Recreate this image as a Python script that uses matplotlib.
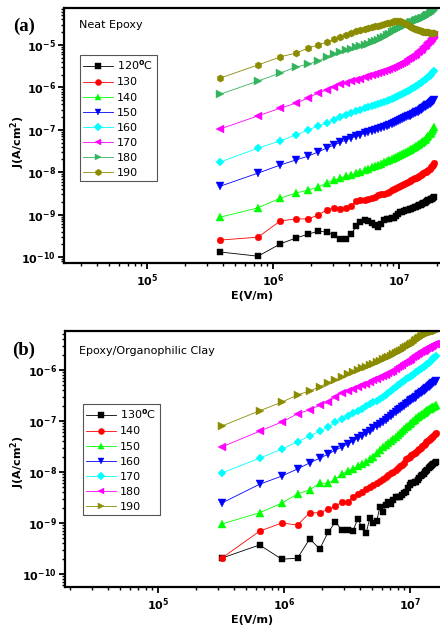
import numpy as np
import matplotlib
matplotlib.use('Agg')
import matplotlib.pyplot as plt
from matplotlib.ticker import LogLocator, FixedLocator, FuncFormatter, NullFormatter

plt.rcParams['font.family'] = ['DejaVu Sans']
plt.rcParams['mathtext.fontset'] = 'dejavusans'

# ---------------- data ----------------
# Applied field steps (uniform voltage steps)
E_a = np.arange(1, 51) * 3.8e5
E_b = np.arange(1, 51) * 3.2e5

temps_a = ['120', '130', '140', '150', '160', '170', '180', '190']
temps_b = ['130', '140', '150', '160', '170', '180', '190']

# tick decades shown
xdec_a = [5, 6, 7]
ydec_a = [-10, -9, -8, -7, -6, -5]
xdec_b = [5, 6, 7]
ydec_b = [-10, -9, -8, -7, -6]

# log10 J (A/cm^2) - Neat Epoxy
logJ_a_120 = [-9.88, -9.98, -9.69, -9.55, -9.46, -9.39, -9.41, -9.48, -9.58, -9.58,
              -9.46, -9.27, -9.17, -9.13, -9.15, -9.20, -9.25, -9.29, -9.22, -9.13,
              -9.10, -9.10, -9.08, -9.08, -9.03, -8.99, -8.94, -8.94, -8.92, -8.89,
              -8.89, -8.87, -8.87, -8.84, -8.82, -8.82, -8.80, -8.77, -8.77, -8.75,
              -8.73, -8.73, -8.70, -8.68, -8.66, -8.66, -8.63, -8.63, -8.61, -8.58]
logJ_a_130 = [-9.60, -9.53, -9.15, -9.10, -9.10, -9.01, -8.89, -8.84, -8.87, -8.84,
              -8.80, -8.68, -8.66, -8.66, -8.63, -8.61, -8.58, -8.54, -8.51, -8.51,
              -8.49, -8.47, -8.42, -8.40, -8.37, -8.35, -8.33, -8.30, -8.28, -8.25,
              -8.23, -8.21, -8.18, -8.16, -8.14, -8.14, -8.11, -8.09, -8.07, -8.04,
              -8.02, -8.00, -8.00, -7.97, -7.95, -7.92, -7.88, -7.85, -7.83, -7.78]
logJ_a_140 = [-9.06, -8.84, -8.61, -8.49, -8.42, -8.35, -8.25, -8.18, -8.14, -8.09,
              -8.07, -8.02, -8.00, -7.95, -7.92, -7.88, -7.85, -7.83, -7.81, -7.76,
              -7.74, -7.71, -7.69, -7.67, -7.64, -7.62, -7.59, -7.57, -7.55, -7.52,
              -7.50, -7.48, -7.45, -7.43, -7.41, -7.38, -7.36, -7.33, -7.31, -7.29,
              -7.26, -7.24, -7.22, -7.17, -7.15, -7.10, -7.08, -7.03, -6.98, -6.93]
logJ_a_150 = [-8.33, -8.02, -7.83, -7.71, -7.62, -7.52, -7.43, -7.36, -7.29, -7.24,
              -7.19, -7.15, -7.12, -7.08, -7.05, -7.03, -7.00, -6.98, -6.96, -6.93,
              -6.91, -6.89, -6.86, -6.84, -6.82, -6.79, -6.77, -6.75, -6.72, -6.70,
              -6.67, -6.67, -6.65, -6.63, -6.60, -6.58, -6.58, -6.56, -6.53, -6.51,
              -6.49, -6.46, -6.44, -6.42, -6.42, -6.39, -6.37, -6.34, -6.32, -6.30]
logJ_a_160 = [-7.76, -7.43, -7.26, -7.12, -7.00, -6.91, -6.84, -6.77, -6.70, -6.65,
              -6.60, -6.56, -6.53, -6.49, -6.46, -6.44, -6.42, -6.39, -6.37, -6.34,
              -6.32, -6.30, -6.27, -6.25, -6.23, -6.20, -6.18, -6.16, -6.13, -6.11,
              -6.08, -6.06, -6.04, -6.01, -5.99, -5.97, -5.94, -5.92, -5.90, -5.87,
              -5.85, -5.83, -5.80, -5.78, -5.75, -5.73, -5.71, -5.66, -5.64, -5.61]
logJ_a_170 = [-6.98, -6.67, -6.49, -6.37, -6.25, -6.13, -6.06, -5.99, -5.92, -5.90,
              -5.85, -5.83, -5.80, -5.75, -5.73, -5.71, -5.68, -5.66, -5.64, -5.61,
              -5.59, -5.57, -5.54, -5.52, -5.50, -5.47, -5.45, -5.42, -5.40, -5.38,
              -5.33, -5.31, -5.28, -5.26, -5.24, -5.21, -5.17, -5.14, -5.12, -5.09,
              -5.05, -5.02, -5.00, -4.95, -4.93, -4.91, -4.86, -4.83, -4.79, -4.76]
logJ_a_180 = [-6.16, -5.85, -5.66, -5.52, -5.45, -5.38, -5.28, -5.21, -5.17, -5.12,
              -5.09, -5.05, -5.02, -5.00, -4.98, -4.93, -4.91, -4.88, -4.83, -4.81,
              -4.76, -4.74, -4.69, -4.67, -4.65, -4.62, -4.60, -4.58, -4.55, -4.53,
              -4.50, -4.48, -4.46, -4.46, -4.43, -4.41, -4.41, -4.39, -4.39, -4.36,
              -4.36, -4.34, -4.32, -4.29, -4.29, -4.27, -4.25, -4.22, -4.20, -4.17]
logJ_a_190 = [-5.78, -5.47, -5.28, -5.19, -5.07, -5.00, -4.93, -4.86, -4.81, -4.76,
              -4.72, -4.67, -4.65, -4.62, -4.60, -4.58, -4.55, -4.55, -4.53, -4.50,
              -4.48, -4.48, -4.46, -4.43, -4.43, -4.43, -4.43, -4.46, -4.48, -4.50,
              -4.53, -4.55, -4.58, -4.60, -4.62, -4.62, -4.65, -4.65, -4.67, -4.67,
              -4.69, -4.69, -4.69, -4.69, -4.69, -4.72, -4.72, -4.72, -4.72, -4.72]

# log10 J (A/cm^2) - Epoxy/Organophilic Clay
logJ_b_130 = [-9.69, -9.43, -9.71, -9.69, -9.31, -9.51, -9.18, -8.98, -9.14, -9.14,
              -9.16, -8.92, -9.08, -9.20, -8.90, -9.00, -8.96, -8.69, -8.78, -8.65,
              -8.59, -8.63, -8.55, -8.49, -8.49, -8.49, -8.45, -8.41, -8.39, -8.31,
              -8.25, -8.22, -8.22, -8.20, -8.20, -8.16, -8.12, -8.08, -8.06, -8.04,
              -8.00, -7.98, -7.96, -7.92, -7.90, -7.88, -7.86, -7.84, -7.82, -7.80]
logJ_b_140 = [-9.69, -9.16, -9.00, -9.04, -8.80, -8.80, -8.73, -8.67, -8.59, -8.59,
              -8.49, -8.43, -8.39, -8.33, -8.29, -8.25, -8.22, -8.18, -8.14, -8.10,
              -8.06, -8.02, -8.00, -7.96, -7.92, -7.88, -7.86, -7.82, -7.75, -7.73,
              -7.71, -7.67, -7.65, -7.63, -7.61, -7.57, -7.55, -7.53, -7.49, -7.47,
              -7.45, -7.41, -7.39, -7.37, -7.35, -7.33, -7.31, -7.29, -7.25, -7.24]
logJ_b_150 = [-9.02, -8.80, -8.61, -8.43, -8.35, -8.22, -8.22, -8.14, -8.04, -7.98,
              -7.94, -7.88, -7.84, -7.80, -7.75, -7.71, -7.63, -7.57, -7.51, -7.47,
              -7.43, -7.39, -7.35, -7.31, -7.27, -7.24, -7.20, -7.16, -7.12, -7.10,
              -7.06, -7.04, -7.00, -6.98, -6.94, -6.92, -6.90, -6.88, -6.86, -6.84,
              -6.82, -6.80, -6.78, -6.76, -6.76, -6.75, -6.73, -6.73, -6.71, -6.69]
logJ_b_160 = [-8.61, -8.24, -8.08, -7.94, -7.82, -7.73, -7.65, -7.57, -7.51, -7.45,
              -7.39, -7.33, -7.29, -7.24, -7.20, -7.14, -7.10, -7.06, -7.02, -6.98,
              -6.94, -6.90, -6.86, -6.82, -6.78, -6.76, -6.73, -6.71, -6.67, -6.65,
              -6.61, -6.59, -6.57, -6.55, -6.53, -6.49, -6.47, -6.45, -6.43, -6.41,
              -6.39, -6.37, -6.35, -6.33, -6.31, -6.29, -6.27, -6.25, -6.24, -6.22]
logJ_b_170 = [-8.02, -7.73, -7.55, -7.41, -7.29, -7.20, -7.12, -7.02, -6.96, -6.90,
              -6.84, -6.80, -6.76, -6.71, -6.67, -6.63, -6.61, -6.57, -6.53, -6.49,
              -6.45, -6.41, -6.37, -6.33, -6.29, -6.27, -6.24, -6.22, -6.18, -6.16,
              -6.14, -6.12, -6.10, -6.06, -6.04, -6.02, -6.00, -5.98, -5.96, -5.94,
              -5.92, -5.90, -5.88, -5.86, -5.84, -5.82, -5.80, -5.76, -5.75, -5.73]
logJ_b_180 = [-7.51, -7.20, -7.02, -6.86, -6.78, -6.69, -6.63, -6.53, -6.45, -6.41,
              -6.37, -6.33, -6.29, -6.27, -6.24, -6.20, -6.18, -6.14, -6.12, -6.10,
              -6.06, -6.04, -6.02, -5.98, -5.94, -5.92, -5.90, -5.86, -5.84, -5.82,
              -5.80, -5.78, -5.75, -5.73, -5.71, -5.69, -5.67, -5.65, -5.63, -5.63,
              -5.61, -5.59, -5.57, -5.57, -5.55, -5.53, -5.53, -5.51, -5.49, -5.49]
logJ_b_190 = [-7.10, -6.80, -6.63, -6.49, -6.41, -6.33, -6.25, -6.20, -6.14, -6.08,
              -6.04, -6.00, -5.96, -5.94, -5.90, -5.88, -5.84, -5.82, -5.78, -5.76,
              -5.75, -5.73, -5.69, -5.67, -5.65, -5.63, -5.61, -5.57, -5.55, -5.53,
              -5.51, -5.49, -5.47, -5.43, -5.41, -5.39, -5.37, -5.35, -5.33, -5.31,
              -5.29, -5.29, -5.27, -5.27, -5.25, -5.25, -5.25, -5.24, -5.24, -5.24]

series_a = [logJ_a_120, logJ_a_130, logJ_a_140, logJ_a_150,
            logJ_a_160, logJ_a_170, logJ_a_180, logJ_a_190]
series_b = [logJ_b_130, logJ_b_140, logJ_b_150, logJ_b_160,
            logJ_b_170, logJ_b_180, logJ_b_190]

# ---------------- styles ----------------
colors_a = ['black', '#ff0000', '#00ff00', '#0000ff', '#00ffff', '#ff00ff', '#33b35c', '#8b8b00']
markers_a = ['s', 'o', '^', 'v', 'D', '<', '>', 'h']
colors_b = ['black', '#ff0000', '#00ff00', '#0000ff', '#00ffff', '#ff00ff', '#8b8b00']
markers_b = ['s', 'o', '^', 'v', 'D', '<', '>']
msizes = {'s': 4.4, 'o': 4.8, '^': 5.4, 'v': 5.4, 'D': 4.0, '<': 5.4, '>': 5.4, 'h': 5.2}

W, H = 440.0, 633.0
fig = plt.figure(figsize=(W / 100, H / 100), dpi=100)


def px_axes(l, t, r, b):
    return fig.add_axes([l / W, 1 - b / H, (r - l) / W, (b - t) / H])


def sci_fmt(v, pos):
    e = int(round(np.log10(v)))
    return r'$\mathbf{10^{%d}}$' % e


def style_axes(ax, xlim, ylim, xdec, ydec):
    ax.set_xscale('log')
    ax.set_yscale('log')
    ax.set_xlim(*xlim)
    ax.set_ylim(*ylim)
    for s in ['left', 'bottom', 'top']:
        ax.spines[s].set_linewidth(1.6)
    ax.spines['right'].set_visible(False)
    ax.xaxis.set_major_locator(FixedLocator([10.0 ** d for d in xdec]))
    ax.yaxis.set_major_locator(FixedLocator([10.0 ** d for d in ydec]))
    ax.xaxis.set_minor_locator(LogLocator(base=10, subs=np.arange(2, 10), numticks=20))
    ax.yaxis.set_minor_locator(LogLocator(base=10, subs=np.arange(2, 10), numticks=20))
    ax.xaxis.set_major_formatter(FuncFormatter(sci_fmt))
    ax.yaxis.set_major_formatter(FuncFormatter(sci_fmt))
    ax.xaxis.set_minor_formatter(NullFormatter())
    ax.yaxis.set_minor_formatter(NullFormatter())
    ax.tick_params(which='major', direction='out', length=4, width=1.3, labelsize=8, pad=2)
    ax.tick_params(which='minor', direction='out', length=2.2, width=1.0)
    ax.tick_params(axis='x', which='major', pad=3)
    ax.set_xlabel('E(V/m)', fontsize=8, fontweight='bold', labelpad=1)
    ax.set_ylabel(r'J(A/cm$^\mathbf{2}$)', fontsize=8, fontweight='bold')


def draw(ax, E, series, temps, colors, markers):
    for i, (vals, t) in enumerate(zip(series, temps)):
        lab = t + r'$^{\mathbf{o}}$C' if i == 0 else t
        ax.plot(E, 10 ** np.array(vals), color=colors[i], lw=0.6,
                marker=markers[i], ms=msizes[markers[i]], mec=colors[i], mew=0.3,
                label=lab)


leg_kw = dict(loc='upper left', borderaxespad=0, fontsize=8, frameon=True,
              fancybox=False, framealpha=1, edgecolor='#555555', handlelength=2.7,
              handletextpad=0.35, labelspacing=0.46, borderpad=0.3, markerscale=0.9)

# Panel (a)
ax1 = px_axes(64, 8, 440, 263)
draw(ax1, E_a, series_a, temps_a, colors_a, markers_a)
style_axes(ax1, (10 ** 4.341, 10 ** 7.325), (10 ** -10.14, 10 ** -4.127), xdec_a, ydec_a)
ax1.yaxis.set_label_coords(-0.098, 0.475)
ax1.text(0.04, 0.933, 'Neat Epoxy', transform=ax1.transAxes, fontsize=8,
         va='center', ha='left')
leg1 = ax1.legend(bbox_to_anchor=(0.0426, 0.8157), **leg_kw)
leg1.get_frame().set_linewidth(0.8)
fig.text(24 / W, 1 - 26 / H, '(a)', fontsize=13.5, fontweight='bold',
         family='Liberation Serif', ha='center', va='center')

# Panel (b)
ax2 = px_axes(65, 331, 440, 587)
draw(ax2, E_b, series_b, temps_b, colors_b, markers_b)
style_axes(ax2, (10 ** 4.262, 10 ** 7.238), (10 ** -10.255, 10 ** -5.235), xdec_b, ydec_b)
ax2.yaxis.set_label_coords(-0.101, 0.488)
ax2.text(0.037, 0.922, 'Epoxy/Organophilic Clay', transform=ax2.transAxes, fontsize=8,
         va='center', ha='left')
leg2 = ax2.legend(bbox_to_anchor=(0.048, 0.715), **leg_kw)
leg2.get_frame().set_linewidth(0.8)
fig.text(24 / W, 1 - 350 / H, '(b)', fontsize=13.5, fontweight='bold',
         family='Liberation Serif', ha='center', va='center')

fig.savefig('out.png', dpi=100)
